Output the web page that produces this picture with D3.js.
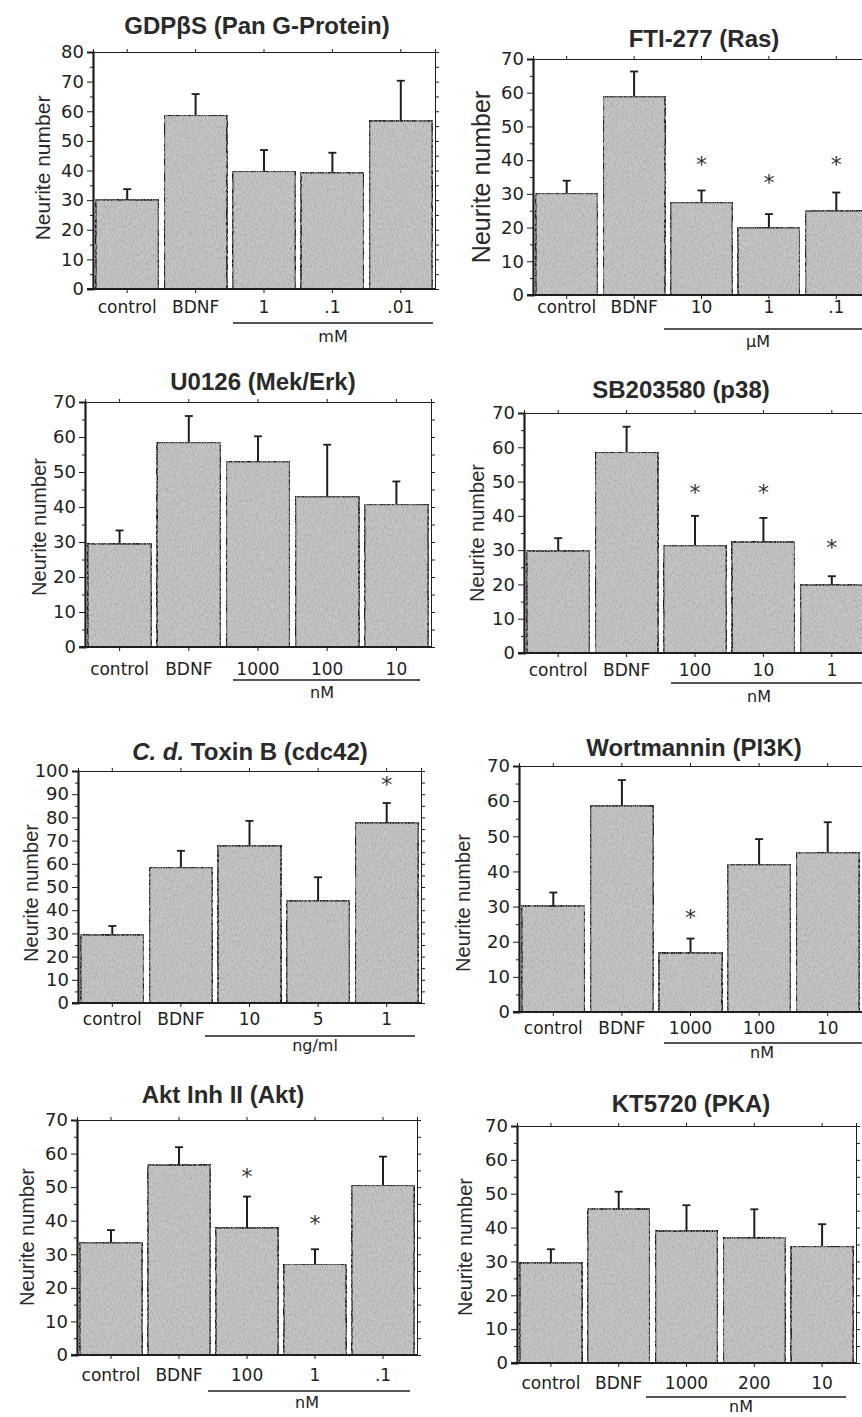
<!DOCTYPE html>
<html>
<head>
<meta charset="utf-8">
<script src="https://cdn.jsdelivr.net/npm/d3@7"></script>
<style>
  body { margin: 0; background: #fff; }
  svg { display: block; }
  .tick text { font-family: "DejaVu Sans", sans-serif; }
</style>
</head>
<body>
<div id="chart"></div>
<script>
// Neurite number panels, one per inhibitor
var titles = ["GDPβS (Pan G-Protein)", "FTI-277 (Ras)", "U0126 (Mek/Erk)", "SB203580 (p38)",
  "C. d. Toxin B (cdc42)", "Wortmannin (PI3K)", "Akt Inh II (Akt)", "KT5720 (PKA)"]
var units = ["mM", "µM", "nM", "nM", "ng/ml", "nM", "nM", "nM"]
var categories = [
  ["control", "BDNF", "1", ".1", ".01"],
  ["control", "BDNF", "10", "1", ".1"],
  ["control", "BDNF", "1000", "100", "10"],
  ["control", "BDNF", "100", "10", "1"],
  ["control", "BDNF", "10", "5", "1"],
  ["control", "BDNF", "1000", "100", "10"],
  ["control", "BDNF", "100", "1", ".1"],
  ["control", "BDNF", "1000", "200", "10"]
]
var means = [
  [30.1, 58.7, 39.8, 39.3, 56.8],
  [30.2, 58.9, 27.5, 20.0, 25.0],
  [29.5, 58.5, 53.0, 43.0, 40.8],
  [29.8, 58.6, 31.4, 32.4, 19.9],
  [29.4, 58.5, 67.8, 44.1, 77.7],
  [30.2, 58.7, 16.8, 42.0, 45.4],
  [33.5, 56.6, 37.9, 27.1, 50.6],
  [29.6, 45.5, 39.0, 37.0, 34.5]
]
var errTops = [
  [33.7, 65.8, 46.9, 46.0, 70.3],
  [33.9, 66.3, 31.0, 24.0, 30.4],
  [33.3, 66.0, 60.2, 57.8, 47.3],
  [33.5, 66.0, 40.0, 39.4, 22.4],
  [33.2, 65.6, 78.5, 54.2, 86.2],
  [34.0, 66.0, 20.9, 49.2, 54.0],
  [37.2, 61.9, 47.2, 31.5, 59.1],
  [33.6, 50.6, 46.6, 45.4, 41.0]
]
var stars = [
  [null, null, null, null, null],
  [null, null, 39.4, 34.2, 39.4],
  [null, null, null, null, null],
  [null, null, 47.6, 47.6, 31.6],
  [null, null, null, null, 95.3],
  [null, null, 27.5, null, null],
  [null, null, 54.0, 40.0, null],
  [null, null, null, null, null]
]
var yMax = [80, 70, 70, 70, 100, 70, 70, 70]
var yLabel = "Neurite number"

// where each panel sits on the page
var layout = [
  {l: 93, r: 435, t: 52, b: 289, tx: 257, ty: 34, lx: 42, ly: 168, ls: 21, cy: 313, uy: 323, u0: 233, u1: 433, ux: 333, uty: 342},
  {l: 533, r: 870, t: 59, b: 295, tx: 704, ty: 47, lx: 481, ly: 177, ls: 25, cy: 313, uy: 329, u0: 664, u1: 870, ux: 758, uty: 347},
  {l: 85, r: 431, t: 402, b: 647, tx: 263, ty: 390, lx: 39, ly: 527, ls: 20, cy: 675, uy: 680, u0: 233, u1: 420, ux: 322, uty: 698},
  {l: 524, r: 866, t: 413, b: 653, tx: 681, ty: 398, lx: 477, ly: 533, ls: 20, cy: 676, uy: 683, u0: 671, u1: 866, ux: 759, uty: 702},
  {l: 78, r: 421, t: 771, b: 1003, tx: 250, ty: 760, lx: 31, ly: 893, ls: 20, cy: 1025, uy: 1036, u0: 205, u1: 415, ux: 315, uty: 1051},
  {l: 519, r: 862, t: 766, b: 1012, tx: 694, ty: 756, lx: 463, ly: 903, ls: 20, cy: 1034, uy: 1043, u0: 664, u1: 866, ux: 762, uty: 1058},
  {l: 77, r: 417, t: 1120, b: 1355, tx: 223, ty: 1103, lx: 27, ly: 1237, ls: 20, cy: 1381, uy: 1391, u0: 208, u1: 410, ux: 307, uty: 1408},
  {l: 517, r: 856, t: 1126, b: 1363, tx: 691, ty: 1112, lx: 465, ly: 1247, ls: 20, cy: 1389, uy: 1397, u0: 646, u1: 846, ux: 741, uty: 1412}
]

var W = 862, H = 1417
var INK = "#1e1e1e"

var svg = d3.select("#chart").append("svg").attr("width", W).attr("height", H)

// grainy fill like the photocopied bars
var defs = svg.append("defs")
var grain = defs.append("filter").attr("id", "grain")
  .attr("x", 0).attr("y", 0).attr("width", 1).attr("height", 1)
grain.append("feTurbulence").attr("type", "fractalNoise")
  .attr("baseFrequency", "0.9 0.35").attr("numOctaves", 2).attr("seed", 3).attr("result", "noise")
grain.append("feColorMatrix").attr("in", "noise").attr("type", "matrix")
  .attr("values", "0 0 0 0 0.4  0 0 0 0 0.4  0 0 0 0 0.4  2.4 0 0 0 -0.95").attr("result", "dots")
grain.append("feComposite").attr("in", "dots").attr("in2", "SourceGraphic").attr("operator", "in").attr("result", "clipped")
var merge = grain.append("feMerge")
merge.append("feMergeNode").attr("in", "SourceGraphic")
merge.append("feMergeNode").attr("in", "clipped")

titles.forEach(function(title, i) {
  var L = layout[i]
  var g = svg.append("g")

  var x = d3.scaleBand().domain(categories[i]).range([L.l, L.r]).paddingInner(0.08).paddingOuter(0.04)
  var y = d3.scaleLinear().domain([0, yMax[i]]).range([L.b, L.t])

  // title
  var t = g.append("text")
    .attr("x", L.tx).attr("y", L.ty)
    .attr("text-anchor", "middle")
    .attr("font-family", "Liberation Sans, Arial, sans-serif")
    .attr("font-weight", "bold").attr("font-size", 24).attr("fill", "#2a2a2a")
  if (title.indexOf("C. d.") === 0) {
    t.append("tspan").attr("font-style", "italic").text("C. d.")
    t.append("tspan").text(title.slice(5))
  } else {
    t.text(title)
  }

  // bars
  var rows = categories[i].map(function(c, k) {
    return {cat: c, v: means[i][k], e: errTops[i][k], s: stars[i][k]}
  })

  g.selectAll(".bar").data(rows).enter().append("rect")
    .attr("class", "bar")
    .attr("x", function(d) { return x(d.cat) })
    .attr("width", x.bandwidth())
    .attr("y", function(d) { return y(d.v) })
    .attr("height", function(d) { return y(0) - y(d.v) })
    .attr("fill", "#c6c6c6")
    .attr("stroke", INK).attr("stroke-width", 2)
    .attr("filter", "url(#grain)")

  // error bars, upward only
  var eb = g.selectAll(".err").data(rows).enter().append("g").attr("class", "err")
  eb.append("line")
    .attr("x1", function(d) { return x(d.cat) + x.bandwidth() / 2 })
    .attr("x2", function(d) { return x(d.cat) + x.bandwidth() / 2 })
    .attr("y1", function(d) { return y(d.v) })
    .attr("y2", function(d) { return y(d.e) })
    .attr("stroke", INK).attr("stroke-width", 2)
  eb.append("line")
    .attr("x1", function(d) { return x(d.cat) + x.bandwidth() / 2 - 4 })
    .attr("x2", function(d) { return x(d.cat) + x.bandwidth() / 2 + 4 })
    .attr("y1", function(d) { return y(d.e) })
    .attr("y2", function(d) { return y(d.e) })
    .attr("stroke", INK).attr("stroke-width", 1.8)

  // significance stars
  g.selectAll(".star").data(rows.filter(function(d) { return d.s !== null })).enter().append("text")
    .attr("class", "star")
    .attr("x", function(d) { return x(d.cat) + x.bandwidth() / 2 })
    .attr("y", function(d) { return y(d.s) + 10 })
    .attr("text-anchor", "middle")
    .attr("font-family", "DejaVu Sans, sans-serif").attr("font-size", 22)
    .attr("fill", "#333")
    .text("*")

  // frame: top and right edges
  var ticks10 = d3.range(0, yMax[i] + 1, 10)
  var ticks5 = d3.range(5, yMax[i], 10)

  g.append("g").attr("transform", "translate(0," + L.t + ")")
    .call(d3.axisTop(x).tickSize(3).tickFormat(""))
  g.append("g").attr("transform", "translate(" + L.r + ",0)")
    .call(d3.axisRight(y).tickValues(d3.range(0, yMax[i] + 1, 5)).tickSize(4).tickFormat(""))

  // left axis with labels plus minor ticks
  var ya = g.append("g").attr("transform", "translate(" + L.l + ",0)")
    .call(d3.axisLeft(y).tickValues(ticks10).tickSize(6).tickPadding(3))
  ya.selectAll("text").attr("font-size", 18).attr("fill", "#222")
  ya.select(".domain").attr("stroke-width", 2.2)
  g.append("g").attr("transform", "translate(" + L.l + ",0)")
    .call(d3.axisLeft(y).tickValues(ticks5).tickSize(3).tickFormat(""))
    .select(".domain").remove()

  // bottom axis
  var xa = g.append("g").attr("transform", "translate(0," + L.b + ")")
    .call(d3.axisBottom(x).tickSize(4).tickFormat(""))
  xa.select(".domain").attr("d", "M" + (L.l - 6) + ",0H" + L.r).attr("stroke-width", 1.8)

  g.selectAll(".domain, .tick line").attr("stroke", INK)

  // category labels
  g.selectAll(".cat").data(rows).enter().append("text")
    .attr("class", "cat")
    .attr("x", function(d) { return x(d.cat) + x.bandwidth() / 2 })
    .attr("y", L.cy)
    .attr("text-anchor", "middle")
    .attr("font-family", "DejaVu Sans, sans-serif").attr("font-size", 17)
    .attr("fill", "#222")
    .text(function(d) { return d.cat })

  // concentration bracket
  g.append("line")
    .attr("x1", L.u0).attr("x2", L.u1).attr("y1", L.uy).attr("y2", L.uy)
    .attr("stroke", INK).attr("stroke-width", 1.6)
  g.append("text")
    .attr("x", L.ux).attr("y", L.uty)
    .attr("text-anchor", "middle")
    .attr("font-family", "DejaVu Sans, sans-serif").attr("font-size", 16)
    .attr("fill", "#222")
    .text(units[i])

  // y axis title
  g.append("text")
    .attr("transform", "translate(" + L.lx + "," + L.ly + ") rotate(-90)")
    .attr("text-anchor", "middle")
    .attr("dominant-baseline", "central")
    .attr("font-family", "Liberation Sans, Arial, sans-serif").attr("font-size", L.ls)
    .attr("fill", "#2a2a2a")
    .text(yLabel)
})
</script>
</body>
</html>
